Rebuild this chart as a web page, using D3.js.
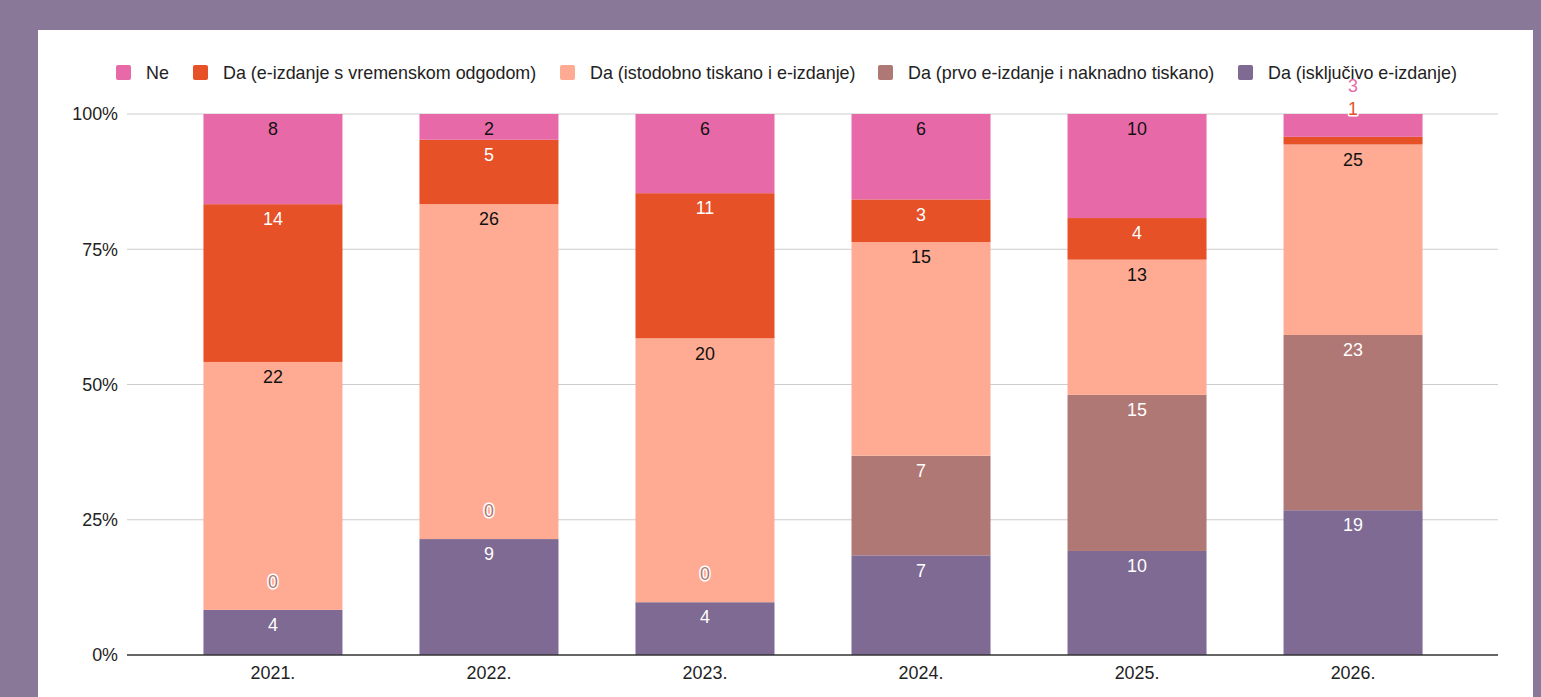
<!DOCTYPE html>
<html><head><meta charset="utf-8">
<script src="https://cdn.jsdelivr.net/npm/d3@7"></script>
<style>
html,body{margin:0;padding:0;background:#8a7898;}
svg{display:block;}
text{font-family:"Liberation Sans",Arial,sans-serif;}
</style></head>
<body>
<svg id="chart" width="1541" height="697"></svg>
<script>
const categories = ["2021.", "2022.", "2023.", "2024.", "2025.", "2026."];
const seriesNames = ["Ne", "Da (e-izdanje s vremenskom odgodom)", "Da (istodobno tiskano i e-izdanje)", "Da (prvo e-izdanje i naknadno tiskano)", "Da (isključivo e-izdanje)"];
const seriesColors = ["#e869a8", "#e65128", "#ffab94", "#b07874", "#7e6a93"];
const labelColors = ["#111", "#fff", "#111", "#fff", "#fff"];
const ne = [8, 2, 6, 6, 10, 3];
const odgoda = [14, 5, 11, 3, 4, 1];
const istodobno = [22, 26, 20, 15, 13, 25];
const prvo = [0, 0, 0, 7, 15, 23];
const iskljucivo = [4, 9, 4, 7, 10, 19];
const yTicks = [0, 0.25, 0.5, 0.75, 1];
const yTickLabels = ["0%", "25%", "50%", "75%", "100%"];

const values = [ne, odgoda, istodobno, prvo, iskljucivo];
const FONT = 17.9;

const svg = d3.select("#chart");
svg.append("rect").attr("x", 38).attr("y", 30).attr("width", 1495).attr("height", 667).attr("fill", "#fff");

const x = d3.scaleBand().domain(categories).range([165, 1461]).paddingInner(0.3565).paddingOuter(0.178);
const y = d3.scaleLinear().domain([0, 1]).range([655, 114]);
const gridL = 127, gridR = 1498;

// gridlines
svg.append("g").selectAll("line").data(yTicks.filter(d => d > 0)).join("line")
  .attr("x1", gridL).attr("x2", gridR).attr("y1", d => y(d)).attr("y2", d => y(d))
  .attr("stroke", "#cccccc").attr("stroke-width", 1);

// y tick labels
svg.append("g").selectAll("text").data(yTicks).join("text")
  .attr("x", 118).attr("y", d => y(d)).attr("dy", "0.35em")
  .attr("text-anchor", "end").attr("font-size", FONT).attr("fill", "#222")
  .text((d, i) => yTickLabels[i]);

// stack (bottom = iskljucivo)
const order = [4, 3, 2, 1, 0];
const rows = categories.map((c, ci) => {
  const total = values.reduce((s, arr) => s + arr[ci], 0);
  let cum = 0;
  const segs = [];
  order.forEach(si => {
    const v = values[si][ci];
    const y0 = cum / total; cum += v; const y1 = cum / total;
    segs.push({ cat: c, si, v, y0, y1 });
  });
  return segs;
});
const segs = rows.flat();

svg.append("g").selectAll("rect").data(segs).join("rect")
  .attr("x", d => x(d.cat)).attr("width", x.bandwidth())
  .attr("y", d => y(d.y1)).attr("height", d => y(d.y0) - y(d.y1))
  .attr("fill", d => seriesColors[d.si]);

// labels
const lab = svg.append("g");
segs.forEach(d => {
  const h = y(d.y0) - y(d.y1);
  const cx = x(d.cat) + x.bandwidth() / 2;
  if (h >= 24.5) {
    lab.append("text").attr("x", cx).attr("y", y(d.y1) + 15).attr("dy", "0.35em")
      .attr("text-anchor", "middle").attr("font-size", FONT).attr("fill", labelColors[d.si]).text(d.v);
  } else {
    lab.append("text").attr("x", cx).attr("y", y(d.y1) - 28).attr("dy", "0.35em")
      .attr("text-anchor", "middle").attr("font-size", FONT)
      .attr("fill", seriesColors[d.si]).attr("stroke", "#fff").attr("stroke-width", 3)
      .attr("paint-order", "stroke").attr("stroke-linejoin", "round").text(d.v);
  }
});

// baseline
svg.append("line").attr("x1", gridL).attr("x2", gridR).attr("y1", y(0)).attr("y2", y(0))
  .attr("stroke", "#333").attr("stroke-width", 1.3);

// x axis labels
svg.append("g").selectAll("text").data(categories).join("text")
  .attr("x", d => x(d) + x.bandwidth() / 2).attr("y", 673).attr("dy", "0.35em")
  .attr("text-anchor", "middle").attr("font-size", FONT).attr("fill", "#222").text(d => d);

// legend
const legendStarts = [116, 193, 560, 878, 1238];
const leg = svg.append("g");
seriesNames.forEach((n, i) => {
  leg.append("rect").attr("x", legendStarts[i]).attr("y", 65).attr("width", 15).attr("height", 15)
    .attr("rx", 2).attr("fill", seriesColors[i]);
  leg.append("text").attr("x", legendStarts[i] + 30).attr("y", 72.5).attr("dy", "0.35em")
    .attr("font-size", FONT).attr("fill", "#222").text(n);
});
</script>
</body></html>
